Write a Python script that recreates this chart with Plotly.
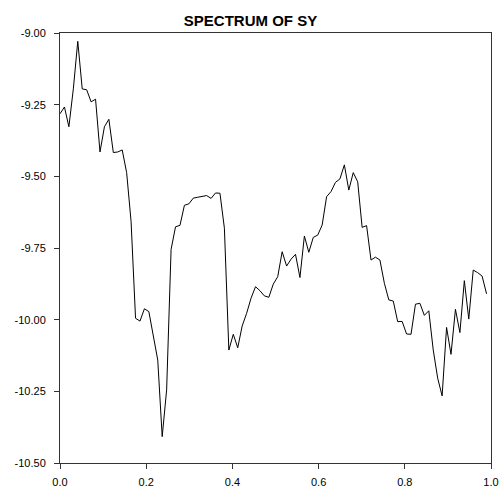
import plotly.graph_objects as go

# Spectrum values
spectrum = [
    -9.282, -9.258, -9.327, -9.195, -9.029, -9.195, -9.198, -9.240, -9.231, -9.415,
    -9.327, -9.301, -9.417, -9.415, -9.408, -9.487, -9.658, -9.995, -10.005, -9.962,
    -9.972, -10.053, -10.141, -10.408, -10.245, -9.755, -9.676, -9.671, -9.601, -9.596,
    -9.576, -9.573, -9.571, -9.567, -9.577, -9.558, -9.559, -9.681, -10.106, -10.051,
    -10.098, -10.022, -9.978, -9.925, -9.885, -9.899, -9.917, -9.922, -9.876, -9.850,
    -9.763, -9.813, -9.789, -9.772, -9.853, -9.708, -9.765, -9.713, -9.705, -9.670,
    -9.571, -9.553, -9.521, -9.509, -9.460, -9.548, -9.487, -9.519, -9.678, -9.672,
    -9.792, -9.782, -9.792, -9.873, -9.931, -9.935, -10.007, -10.006, -10.050, -10.051,
    -9.946, -9.943, -9.985, -9.969, -10.106, -10.204, -10.266, -10.027, -10.121, -9.964,
    -10.045, -9.864, -9.998, -9.827, -9.836, -9.848, -9.910,
]
n_intervals = 97
frequency = [i / n_intervals for i in range(len(spectrum))]

y_ticks = [-9.00, -9.25, -9.50, -9.75, -10.00, -10.25, -10.50]
y_tick_labels = ["-9.00", "-9.25", "-9.50", "-9.75", "-10.00", "-10.25", "-10.50"]
x_ticks = [0.0, 0.2, 0.4, 0.6, 0.8, 1.0]
x_tick_labels = ["0.0", "0.2", "0.4", "0.6", "0.8", "1.0"]

fig = go.Figure(
    go.Scatter(
        x=frequency,
        y=spectrum,
        mode="lines",
        line=dict(color="black", width=1),
        hoverinfo="skip",
    )
)

axis_common = dict(
    showline=True,
    mirror=True,
    linecolor="#333333",
    linewidth=1,
    ticks="outside",
    ticklen=5,
    tickcolor="#333333",
    tickwidth=1,
    showgrid=False,
    zeroline=False,
    automargin=False,
    tickfont=dict(family="Liberation Sans, Arial, sans-serif", size=11, color="black"),
)

fig.update_layout(
    width=501,
    height=491,
    margin=dict(l=60, r=9.5, t=33, b=28),
    paper_bgcolor="white",
    plot_bgcolor="white",
    showlegend=False,
    title=dict(
        text="<b>SPECTRUM OF SY</b>",
        x=0.5,
        xref="container",
        xanchor="center",
        y=1 - 20.5 / 491,
        yref="container",
        yanchor="middle",
        font=dict(family="Liberation Sans, Arial, sans-serif", size=15, color="black"),
    ),
    xaxis=dict(
        range=[0, 1],
        tickvals=x_ticks,
        ticktext=x_tick_labels,
        ticklabelstandoff=4,
        **axis_common,
    ),
    yaxis=dict(
        range=[-10.5, -9.0],
        tickvals=y_ticks,
        ticktext=y_tick_labels,
        ticklabelstandoff=6,
        **axis_common,
    ),
)

fig.write_html("out.html")
